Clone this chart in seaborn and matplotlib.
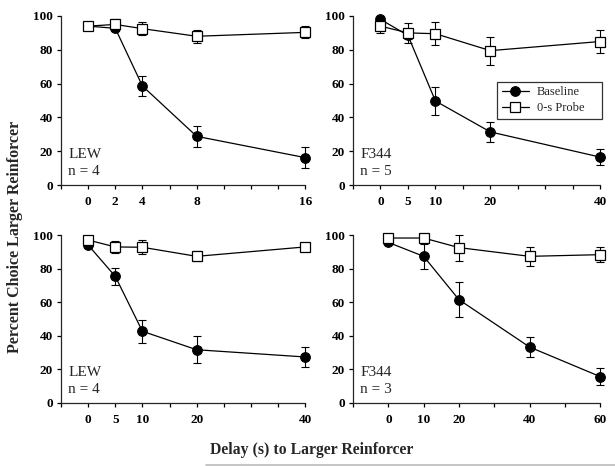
import matplotlib
matplotlib.use("Agg")
import matplotlib.pyplot as plt
import seaborn as sns
import pandas as pd
from matplotlib.lines import Line2D

# data
lew1_delay = [0, 2, 4, 8, 16]
lew1_base = [94, 92.7, 58.6, 28.8, 16.2]
lew1_base_err = [2, 1.5, 6, 6.3, 6.3]
lew1_probe = [94, 95, 92.5, 88, 90.3]
lew1_probe_err = [2.5, 3.5, 4, 4, 3.5]

f344a_delay = [0, 5, 10, 20, 40]
f344a_base = [98, 88.5, 49.7, 31.4, 16.5]
f344a_base_err = [1, 2, 8.5, 5.7, 4.8]
f344a_probe = [94, 90, 89.5, 79.5, 84.9]
f344a_probe_err = [4, 6, 6.7, 8.3, 7]

lew2_delay = [0, 5, 10, 20, 40]
lew2_base = [94, 75.4, 42.7, 31.7, 27.4]
lew2_base_err = [2, 5, 7, 8, 6]
lew2_probe = [97, 92.9, 92.7, 87.3, 92.9]
lew2_probe_err = [2, 3.5, 4.3, 3, 1]

f344b_delay = [0, 10, 20, 40, 60]
f344b_base = [95.6, 87.3, 61.5, 33.3, 15.7]
f344b_base_err = [1, 7.5, 10.6, 5.8, 5]
f344b_probe = [98.2, 98.2, 92.5, 87.3, 88.3]
f344b_probe_err = [1, 1, 7.7, 5.5, 4.6]

panels = [
    ("LEW\nn = 4", lew1_delay, lew1_base, lew1_base_err, lew1_probe, lew1_probe_err, (-2, 16), 2, [0, 2, 4, 8, 16]),
    ("F344\nn = 5", f344a_delay, f344a_base, f344a_base_err, f344a_probe, f344a_probe_err, (-5, 40), 5, [0, 5, 10, 20, 40]),
    ("LEW\nn = 4", lew2_delay, lew2_base, lew2_base_err, lew2_probe, lew2_probe_err, (-5, 40), 5, [0, 5, 10, 20, 40]),
    ("F344\nn = 3", f344b_delay, f344b_base, f344b_base_err, f344b_probe, f344b_probe_err, (-10, 60), 10, [0, 10, 20, 40, 60]),
]

sns.set_style("ticks")
plt.rcParams['font.family'] = ['Liberation Serif', 'DejaVu Serif']

fig = plt.figure(figsize=(6.15, 4.66), dpi=100)
rects = [
    [0.0992, 0.603, 0.397, 0.3627],
    [0.574, 0.603, 0.402, 0.3627],
    [0.0992, 0.1352, 0.397, 0.3605],
    [0.574, 0.1352, 0.402, 0.3605],
]

for i, (lbl, d, b, be, p, pe, xl, step, labs) in enumerate(panels):
    ax = fig.add_axes(rects[i])
    df = pd.DataFrame({"Delay": d * 2, "Pct": b + p,
                       "Cond": ["Baseline"] * len(d) + ["0-s Probe"] * len(d)})
    for yy, ee in [(b, be), (p, pe)]:
        eb = ax.errorbar(d, yy, yerr=ee, fmt="none", ecolor="black", elinewidth=0.8,
                         capsize=3, capthick=0.8, zorder=2)
        for art in eb.lines[1] + eb.lines[2]:
            art.set_clip_on(False)
    sns.lineplot(data=df[df.Cond == "Baseline"], x="Delay", y="Pct", ax=ax, color="black",
                 marker="o", markersize=7, markerfacecolor="black", markeredgecolor="black",
                 linewidth=0.9, label="Baseline", zorder=3, clip_on=False)
    sns.lineplot(data=df[df.Cond == "0-s Probe"], x="Delay", y="Pct", ax=ax, color="black",
                 marker="s", markersize=6.5, markerfacecolor="white", markeredgecolor="black",
                 markeredgewidth=0.9, linewidth=0.9, label="0-s Probe", zorder=3, clip_on=False)
    ax.set_xlim(*xl)
    ax.set_ylim(0, 100)
    ax.set_xticks(range(xl[0], xl[1] + 1, step))
    ax.set_xticklabels([str(t) if t in labs else "" for t in range(xl[0], xl[1] + 1, step)])
    ax.set_yticks([0, 20, 40, 60, 80, 100])
    for s in ["top", "right"]:
        ax.spines[s].set_visible(False)
    for s in ["left", "bottom"]:
        ax.spines[s].set_linewidth(0.9)
    ax.tick_params(direction="out", length=3, width=0.9, labelsize=9.5, colors="black")
    ax.tick_params(axis="x", pad=5)
    ax.tick_params(axis="y", pad=3)
    for t in ax.get_xticklabels() + ax.get_yticklabels():
        t.set_fontweight("bold")
    ax.set_xlabel("")
    ax.set_ylabel("")
    ax.text(0.03, 0.04, lbl, transform=ax.transAxes, fontsize=11, linespacing=1.4, va="bottom", ha="left")
    if i == 1:
        leg = ax.legend(loc="upper left", bbox_to_anchor=(0.583, 0.39, 0.425, 0.219), mode="expand",
                        fontsize=9, frameon=True, fancybox=False, edgecolor="black",
                        handlelength=2.2, borderpad=0.35, borderaxespad=0, labelspacing=0.3,
                        handletextpad=0.6)
        leg.get_frame().set_linewidth(0.9)
    else:
        ax.get_legend().remove()

fig.text(0.024, 0.491, "Percent Choice Larger Reinforcer", rotation=90, fontsize=11.5,
         fontweight="bold", va="center", ha="center")
fig.text(0.506, 0.034, "Delay (s) to Larger Reinforcer", fontsize=11.3, fontweight="bold",
         va="center", ha="center")
fig.add_artist(Line2D([0.335, 1.0], [0.002, 0.002], color="#bbbbbb", linewidth=1.2))

fig.savefig("out.png", dpi=100)
